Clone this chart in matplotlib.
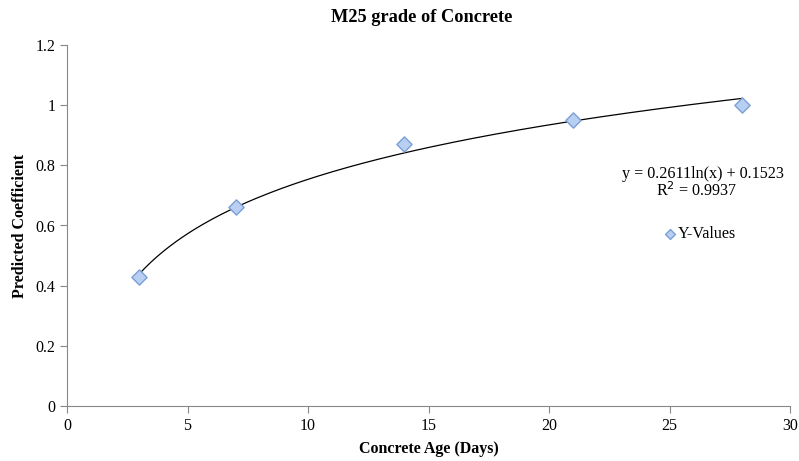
import numpy as np
import matplotlib
matplotlib.use("Agg")
import matplotlib.pyplot as plt

days = [3, 7, 14, 21, 28]
coeff = [0.43, 0.66, 0.87, 0.95, 1.0]
fit_a, fit_b = 0.2611, 0.1523
x_ticks = [0, 5, 10, 15, 20, 25, 30]
y_ticks = [0, 0.2, 0.4, 0.6, 0.8, 1, 1.2]
y_labels = ["0", "0.2", "0.4", "0.6", "0.8", "1", "1.2"]

plt.rcParams['font.family'] = ['Liberation Serif', 'DejaVu Serif']

fig = plt.figure(figsize=(7.99, 4.61), dpi=100)
ax = fig.add_axes([67/799, 55/461, 723/799, 361/461])

xs = np.linspace(min(days), max(days), 200)
ax.plot(xs, fit_a*np.log(xs) + fit_b, color='black', lw=0.9, zorder=2)
ax.scatter(days, coeff, marker='D', s=60, facecolor='#b9cff2', edgecolor='#7a9fd6',
           linewidth=1.0, zorder=3, label='Y-Values')

ax.set_xlim(0, 30)
ax.set_ylim(0, 1.2)
ax.set_xticks(x_ticks)
ax.set_yticks(y_ticks)
ax.set_yticklabels(y_labels)
for s in ['top', 'right']:
    ax.spines[s].set_visible(False)
for s in ['left', 'bottom']:
    ax.spines[s].set_color('#888888')
    ax.spines[s].set_linewidth(0.8)
ax.tick_params(axis='both', colors='#888888', labelcolor='black', labelsize=11.5, length=5, width=0.8)

fig.text(422/799, 1-18/461, 'M25 grade of Concrete', ha='center', va='center',
         fontsize=13.2, fontweight='bold')
ax.set_xlabel('Concrete Age (Days)', fontsize=11.5, fontweight='bold', labelpad=5)
ax.set_ylabel('Predicted Coefficient', fontsize=11.5, fontweight='bold', labelpad=5)

fig.text(703/799, 1-174/461, 'y = 0.2611ln(x) + 0.1523', ha='center', va='center', fontsize=11.6)
fig.text(697/799, 1-191/461, r'R$^{2}$ = 0.9937', ha='center', va='center', fontsize=11.6)

leg = ax.legend(loc='center', bbox_to_anchor=(699/799, 1-234/461), bbox_transform=fig.transFigure,
                frameon=False, fontsize=11.6, handletextpad=0.0, markerscale=0.65,
                handlelength=1.0, borderaxespad=0, borderpad=0)

fig.savefig('out.png', dpi=100)
